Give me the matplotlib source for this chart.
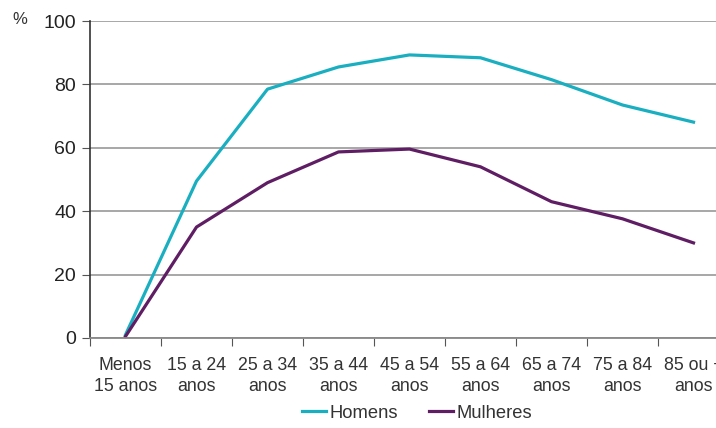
import matplotlib
matplotlib.use("Agg")
import matplotlib.pyplot as plt
import numpy as np

categories = ["Menos\n15 anos", "15 a 24\nanos", "25 a 34\nanos", "35 a 44\nanos",
              "45 a 54\nanos", "55 a 64\nanos", "65 a 74\nanos", "75 a 84\nanos", "85 ou +\nanos"]
homens = [1.0, 49.5, 78.5, 85.5, 89.3, 88.4, 81.5, 73.5, 68.1]
mulheres = [0.5, 35.0, 49.0, 58.7, 59.6, 54.0, 43.0, 37.6, 30.0]
yticks = [0, 20, 40, 60, 80, 100]

plt.rcParams['font.family'] = ['Liberation Sans', 'DejaVu Sans']

W, H = 716, 428
fig = plt.figure(figsize=(W / 100, H / 100), dpi=100)
ax = fig.add_axes([90 / W, 1 - 338 / H, 639 / W, 317 / H])

x = np.arange(len(categories))
teal = "#1AAFC0"
purple = "#5F1D64"
ax.plot(x, homens, color=teal, lw=2.3, label="Homens", clip_on=False)
ax.plot(x, mulheres, color=purple, lw=2.3, label="Mulheres", clip_on=False)

ax.set_xlim(-0.5, len(categories) - 0.5)
ax.set_ylim(0, 100)
ax.set_yticks(yticks)
ax.set_yticklabels([str(v) for v in yticks], fontsize=14, color="#222222")
ax.yaxis.grid(True, color="#A0A0A0", lw=1.3)
ax.set_axisbelow(True)

ax.set_xticks(np.arange(len(categories) + 1) - 0.5)
ax.set_xticklabels([])
ax.set_xticks(x, minor=True)
ax.set_xticklabels(categories, minor=True, fontsize=12.8, color="#333333", linespacing=1.3)
ax.tick_params(axis="x", which="minor", length=0, pad=14)
ax.tick_params(axis="x", which="major", length=6, color="#555555", direction="out")
ax.tick_params(axis="y", length=6, color="#555555", direction="out", pad=4)

for s in ["top", "right"]:
    ax.spines[s].set_visible(False)
ax.spines["left"].set_color("#333333")
ax.spines["left"].set_linewidth(1.2)
ax.spines["bottom"].set_color("#888888")
ax.spines["bottom"].set_linewidth(1.3)

fig.text(20 / W, 1 - 20 / H, "%", fontsize=12, color="#333333", ha="center", va="center")

leg = fig.legend(loc="center", bbox_to_anchor=(417 / W, 1 - 413 / H), ncol=2, frameon=False,
                 fontsize=13.2, handlelength=1.3, handletextpad=0.2, columnspacing=1.7)
for t in leg.get_texts():
    t.set_color("#333333")

fig.savefig("out.png", dpi=100)
